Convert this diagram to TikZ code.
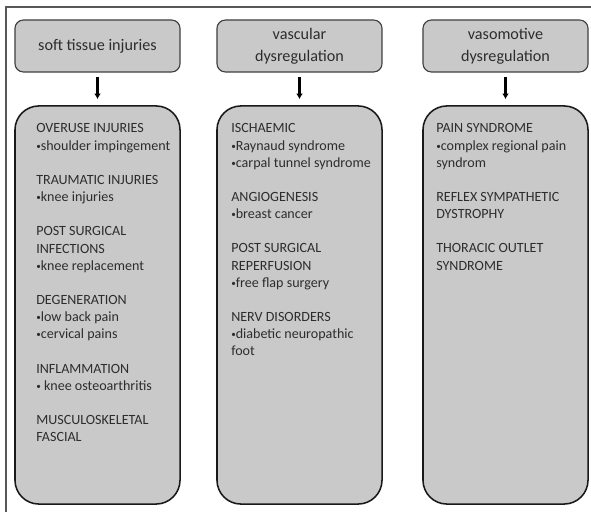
\documentclass[tikz,border=0pt]{standalone}
\usepackage{fontspec}
\setmainfont{Carlito}
\usetikzlibrary{positioning,arrows.meta}
\definecolor{boxgray}{RGB}{201,201,201}
\definecolor{framegray}{RGB}{88,88,88}
\definecolor{inkgray}{RGB}{45,45,45}
\newcommand{\bul}{\raisebox{0.6pt}{\fontsize{6.5}{6.5}\selectfont•}}

\begin{document}
\begin{tikzpicture}[x=0.025cm, y=-0.025cm,
    headbox/.style={draw=black!75, fill=boxgray, line width=0.8pt, rounded corners=6pt,
        minimum width=4.125cm, minimum height=1.3cm, inner sep=0pt, align=center,
        text=inkgray, font=\fontsize{11.5}{15.6}\selectfont},
    listbox/.style={draw=black!90, fill=boxgray, line width=1.1pt, rounded corners=17pt,
        minimum width=4.125cm, minimum height=9.95cm, inner sep=0pt},
    listtext/.style={anchor=north west, align=left, inner sep=0pt, text=inkgray,
        font=\fontsize{10}{12.2}\selectfont},
    arrowline/.style={line width=2.1pt, -{Latex[length=4pt,width=5pt]},
        shorten <=3.5pt, shorten >=4.3pt}]
    \useasboundingbox (0,0) rectangle (591,512);
    \clip (0,0) rectangle (591,512);

    % Outer frame (cut off at right and bottom)
    \draw[framegray, line width=1.4pt] (6,530) -- (6,7) -- (610,7);

    % Heads, list boxes and arrows
    \foreach \c/\x/\title in {1/97.5/{soft tissue injuries},
                              2/299.5/{vascular\\dysregulation},
                              3/505.5/{vasomotive\\dysregulation}} {
        \node[headbox] (head\c) at (\x, 46) {\title};
        \node[listbox] (list\c) at (\x, 305) {};
        \draw[arrowline] (head\c) -- (list\c);
    }

    % Texts in the list boxes
    \node[listtext] (items1) at (36, 123.5) {OVERUSE INJURIES\\
        \bul shoulder impingement\\[12.2pt]
        TRAUMATIC INJURIES\\
        \bul knee injuries\\[12.2pt]
        POST SURGICAL\\
        INFECTIONS\\
        \bul knee replacement\\[12.2pt]
        DEGENERATION\\
        \bul low back pain\\
        \bul cervical pains\\[12.2pt]
        INFLAMMATION\\
        \bul{} knee osteoarthritis\\[12.2pt]
        MUSCULOSKELETAL\\
        FASCIAL};
    \node[listtext] (items2) at (231, 123.5) {ISCHAEMIC\\
        \bul Raynaud syndrome\\
        \bul carpal tunnel syndrome\\[12.2pt]
        ANGIOGENESIS\\
        \bul breast cancer\\[12.2pt]
        POST SURGICAL\\
        REPERFUSION\\
        \bul free flap surgery\\[12.2pt]
        NERV DISORDERS\\
        \bul diabetic neuropathic\\
        foot};
    \node[listtext] (items3) at (436, 123.5) {PAIN SYNDROME\\
        \bul complex regional pain\\
        syndrom\\[12.2pt]
        REFLEX SYMPATHETIC\\
        DYSTROPHY\\[12.2pt]
        THORACIC OUTLET\\
        SYNDROME};
\end{tikzpicture}
\end{document}
